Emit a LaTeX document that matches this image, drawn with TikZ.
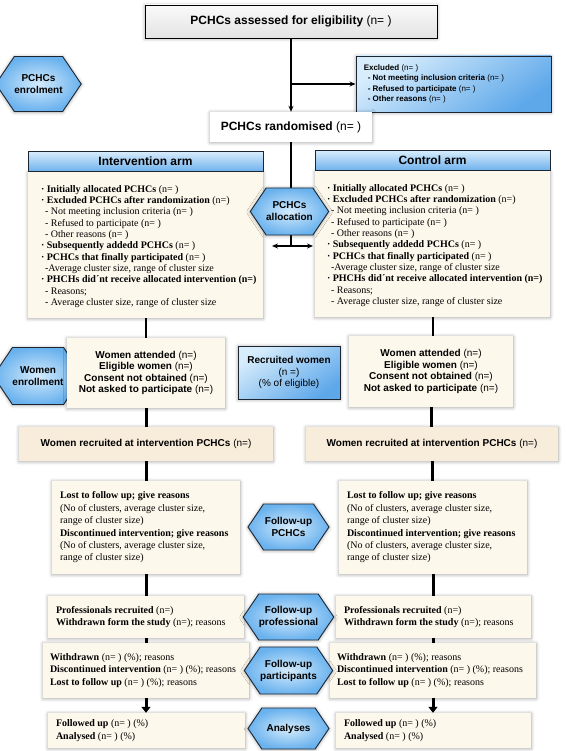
\documentclass[tikz,border=0pt]{standalone}
\usepackage{fontspec}
\setmainfont{Liberation Serif}
\setsansfont{Liberation Sans}
\usetikzlibrary{shapes.symbols,shadows.blur,arrows.meta,backgrounds}
\definecolor{cream}{HTML}{FDF8EC}
\definecolor{peach}{HTML}{F8ECDB}
\definecolor{blueL}{HTML}{D8EDFC}
\definecolor{blueD}{HTML}{5EA8EA}
\definecolor{hexin}{HTML}{D4EBFC}
\definecolor{hexout}{HTML}{6AB2EE}
\definecolor{edge}{HTML}{1C2633}
\newcommand{\ind}{\hspace*{4pt}}
\begin{document}
\begin{tikzpicture}[x=1pt,y=-1pt,font=\sffamily,
  shad/.style={blur shadow={shadow xshift=0pt,shadow yshift=-0.6pt,shadow blur radius=3.5pt,shadow opacity=38}},
  hexa/.style={signal,signal to=east and west,signal pointer angle=112,draw=edge,line width=0.9pt,inner color=hexin,outer color=hexout,shad,inner sep=0pt,align=center,font=\sffamily\bfseries\fontsize{10}{12}\selectfont},
  grybox/.style={draw=black,line width=0.9pt,top color=gray!4,bottom color=gray!22,shad,inner sep=0pt},
  bluebox/.style={draw=edge,line width=0.9pt,top color=blueL,bottom color=blueD,shading angle=35,shad,inner sep=0pt},
  whitebox/.style={fill=white,shad,inner sep=0pt},
  creambox/.style={fill=cream,shad,inner sep=0pt},
  peachbox/.style={fill=peach,shad,inner sep=0pt},
  armhead/.style={draw=edge,line width=0.9pt,top color=blueL,bottom color=blueD!90,inner sep=0pt,minimum width=235,minimum height=20,font=\sffamily\bfseries\fontsize{12}{14}\selectfont},
  armtext/.style={align=left,inner sep=0pt,font=\rmfamily\fontsize{10}{11.3}\selectfont},
  rmtext/.style={align=left,inner sep=0pt,font=\rmfamily\fontsize{10}{12.4}\selectfont},
  sftext/.style={align=center,font=\sffamily\fontsize{10}{11.6}\selectfont},
  conn/.style={line width=1.2pt},
  fat/.style={line width=3pt},
  tip/.style={-{Stealth[length=6pt,width=5pt]}},
  bigtip/.style={-{Triangle[length=6pt,width=9pt]}}
]
\useasboundingbox (0,0) rectangle (566,751);

% top
\node[grybox,minimum width=292,minimum height=33,font=\sffamily\fontsize{12}{14}\selectfont] (assess) at (291,21.5) {\textbf{PCHCs assessed for eligibility} (n= )};
\node[hexa,minimum width=73,minimum height=55] (enrol) at (38.5,84) {PCHCs\\enrolment};
\node[bluebox,minimum width=195,minimum height=56] (excl) at (453.5,84) {};
\node[align=left,inner sep=0pt,anchor=west,font=\sffamily\fontsize{8}{10.3}\selectfont] (excltext) at ([xshift=8pt]excl.west) {\textbf{Excluded} (n= )\\\ind\textbf{- Not meeting inclusion criteria} (n= )\\\ind\textbf{- Refused to participate} (n= )\\\ind\textbf{- Other reasons} (n= )};
\node[whitebox,minimum width=162,minimum height=30,font=\sffamily\fontsize{12}{14}\selectfont] (rand) at (291,127) {\textbf{PCHCs randomised} (n= )};
\coordinate (br) at (291,84);

% arms
\node[creambox,minimum width=235,minimum height=146] (ibody) at (145.5,245) {};
\node[armhead,anchor=south] (ihead) at (ibody.north) {Intervention arm};
\node[armtext,anchor=west] (itext) at ([xshift=13pt,yshift=-1.5pt]ibody.west) {%
\textbf{· Initially allocated PCHCs} (n= )\\
\textbf{· Excluded PCHCs after randomization} (n=)\\
\ind- Not meeting inclusion criteria (n= )\\
\ind- Refused to participate (n= )\\
\ind- Other reasons (n= )\\
\textbf{· Subsequently addedd PCHCs} (n= )\\
\textbf{· PCHCs that finally participated} (n= )\\
\ind-Average cluster size, range of cluster size\\
\textbf{· PHCHs did´nt receive allocated intervention (n=)}\\
\ind- Reasons;\\
\ind- Average cluster size, range of cluster size};

\node[creambox,minimum width=235,minimum height=146] (cbody) at (432.5,244) {};
\node[armhead,anchor=south] (chead) at (cbody.north) {Control arm};
\node[armtext,anchor=west] (ctext) at ([xshift=12pt,yshift=-1.5pt]cbody.west) {%
\textbf{· Initially allocated PCHCs} (n= )\\
\textbf{· Excluded PCHCs after randomization} (n=)\\
\ind- Not meeting inclusion criteria (n= )\\
\ind- Refused to participate (n= )\\
\ind- Other reasons (n= )\\
\textbf{· Subsequently addedd PCHCs} (n= )\\
\textbf{· PCHCs that finally participated} (n= )\\
\ind-Average cluster size, range of cluster size\\
\textbf{· PHCHs did´nt receive allocated intervention (n=)}\\
\ind- Reasons;\\
\ind- Average cluster size, range of cluster size};

\node[hexa,minimum width=73,minimum height=47] (alloc) at (289.5,211.5) {PCHCs\\allocation};
\coordinate (split) at (291,246);
\coordinate (la) at (272,246);
\coordinate (ra) at (313,246);

% women
\node[hexa,minimum width=74,minimum height=57] (wenrol) at (38,376) {Women\\enrollment};
\node[creambox,sftext,minimum width=158,minimum height=70] (wl) at (146,373) {\textbf{Women attended} (n=)\\\textbf{Eligible women} (n=)\\\textbf{Consent not obtained} (n=)\\\textbf{Not asked to participate} (n=)};
\node[bluebox,sftext,minimum width=102,minimum height=53] (recw) at (289,372.5) {\textbf{Recruited women}\\(n =)\\(\% of eligible)};
\node[creambox,sftext,minimum width=164,minimum height=71] (wr) at (431,371.5) {\textbf{Women attended} (n=)\\\textbf{Eligible women} (n=)\\\textbf{Consent not obtained} (n=)\\\textbf{Not asked to participate} (n=)};

\node[peachbox,sftext,minimum width=254,minimum height=34] (rl) at (146,444) {\textbf{Women recruited at intervention PCHCs} (n=)};
\node[peachbox,sftext,minimum width=252,minimum height=34] (rr) at (432,444) {\textbf{Women recruited at intervention PCHCs} (n=)};

% follow-up PCHCs
\node[creambox,minimum width=188,minimum height=93] (ll) at (146,527.5) {};
\node[rmtext,anchor=west] (lltext) at ([xshift=8pt]ll.west) {\textbf{Lost to follow up; give reasons}\\(No of clusters, average cluster size,\\range of cluster size)\\\textbf{Discontinued intervention; give reasons}\\(No of clusters, average cluster size,\\range of cluster size)};
\node[creambox,minimum width=188,minimum height=93] (lr) at (433,527.5) {};
\node[rmtext,anchor=west] (lrtext) at ([xshift=8pt]lr.west) {\textbf{Lost to follow up; give reasons}\\(No of clusters, average cluster size,\\range of cluster size)\\\textbf{Discontinued intervention; give reasons}\\(No of clusters, average cluster size,\\range of cluster size)};
\node[hexa,minimum width=81,minimum height=46] (fupchc) at (288.5,527) {Follow-up\\PCHCs};

% professionals
\node[creambox,minimum width=196,minimum height=42] (pl) at (146,617) {};
\node[rmtext,anchor=west] (pltext) at ([xshift=8pt]pl.west) {\textbf{Professionals recruited} (n=)\\\textbf{Withdrawn form the study} (n=); reasons};
\node[creambox,minimum width=195,minimum height=42] (pr) at (433.5,617) {};
\node[rmtext,anchor=west] (prtext) at ([xshift=8pt]pr.west) {\textbf{Professionals recruited} (n=)\\\textbf{Withdrawn form the study} (n=); reasons};
\node[hexa,minimum width=81,minimum height=46] (fuprof) at (288.5,617) {Follow-up\\professional};

% participants
\node[creambox,minimum width=206,minimum height=55] (dl) at (146,670.5) {};
\node[rmtext,anchor=west] (dltext) at ([xshift=7pt]dl.west) {\textbf{Withdrawn} (n= ) (\%); reasons\\\textbf{Discontinued intervention} (n= ) (\%); reasons\\\textbf{Lost to follow up} (n= ) (\%); reasons};
\node[creambox,minimum width=206,minimum height=55] (dr) at (433,670.5) {};
\node[rmtext,anchor=west] (drtext) at ([xshift=7pt]dr.west) {\textbf{Withdrawn} (n= ) (\%); reasons\\\textbf{Discontinued intervention} (n= ) (\%); reasons\\\textbf{Lost to follow up} (n= ) (\%); reasons};
\node[hexa,minimum width=81,minimum height=47] (fupart) at (288.5,670.5) {Follow-up\\participants};

% analyses
\node[creambox,minimum width=197,minimum height=35] (fl) at (146.5,730.5) {};
\node[rmtext,anchor=west] (fltext) at ([xshift=8pt]fl.west) {\textbf{Followed up} (n= ) (\%)\\\textbf{Analysed} (n= ) (\%)};
\node[creambox,minimum width=195,minimum height=35] (fr) at (433.5,730.5) {};
\node[rmtext,anchor=west] (frtext) at ([xshift=8pt]fr.west) {\textbf{Followed up} (n= ) (\%)\\\textbf{Analysed} (n= ) (\%)};
\node[hexa,minimum width=81,minimum height=41] (analy) at (288.5,728.5) {Analyses};

\begin{scope}[on background layer]
\draw[conn,tip] (assess.south) -- (rand.north);
\draw[conn,tip] (br) -- (excl.west);
\draw[conn] (rand.south) -- (split);
\draw[conn,tip] (split) -- (la);
\draw[conn,tip] (split) -- (ra);
\draw[line width=2pt] (ibody.south) -- (ibody.south |- wl.north);
\draw[line width=2pt] (cbody.south) -- (cbody.south |- wr.north);
\draw[fat] (wl.south) -- (wl.south |- rl.north);
\draw[fat] (wr.south) -- (wr.south |- rr.north);
\draw[fat] (rl.south) -- (rl.south |- ll.north);
\draw[fat] (rr.south) -- (rr.south |- lr.north);
\draw[fat] (ll.south) -- (ll.south |- pl.north);
\draw[fat] (lr.south) -- (lr.south |- pr.north);
\draw[fat] (pl.south) -- (pl.south |- dl.north);
\draw[fat] (pr.south) -- (pr.south |- dr.north);
\draw[fat,bigtip] (dl.south) -- (dl.south |- fl.north);
\draw[fat,bigtip] (dr.south) -- (dr.south |- fr.north);
\end{scope}
\end{tikzpicture}
\end{document}
